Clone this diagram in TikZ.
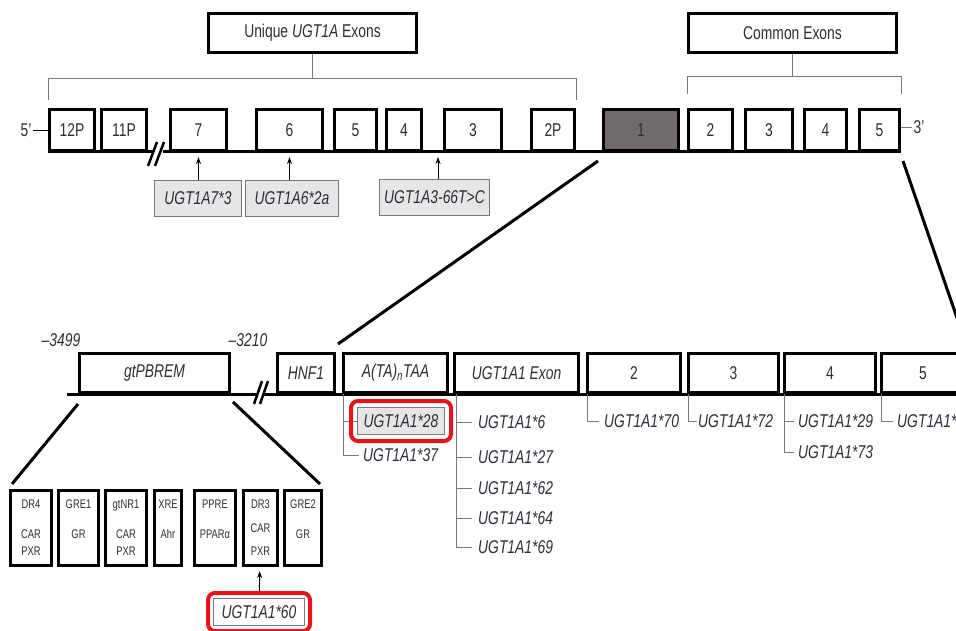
\documentclass[tikz,border=0pt]{standalone}
\usepackage{fontspec}
\setmainfont{Liberation Sans}[FakeStretch=0.75]
\usepackage{tikz}
\usetikzlibrary{arrows.meta, positioning, calc, fit}
\definecolor{inktext}{RGB}{45, 45, 58}
\definecolor{exonfill}{RGB}{112, 106, 106}
\definecolor{labelfill}{RGB}{230, 230, 230}
\definecolor{hilite}{RGB}{232, 20, 27}
\definecolor{bracketgray}{RGB}{120, 120, 120}

\begin{document}
\begin{tikzpicture}[
    x=1pt, y=-1pt,
    exonBox/.style={draw=black, fill=white, line width=3pt, inner sep=1pt, text=inktext, font=\fontsize{18.5}{21}\selectfont, minimum height=41pt},
    midBox/.style={exonBox, minimum height=39pt},
    headBox/.style={exonBox, minimum width=208pt, minimum height=39pt},
    siteBox/.style={draw=black, fill=white, line width=3pt, inner sep=1pt, text=inktext, align=center, font=\fontsize{12.5}{17}\selectfont, minimum height=75pt},
    snpBox/.style={draw=bracketgray, fill=labelfill, line width=1pt, inner sep=1pt, text=inktext, font=\fontsize{18.5}{21}\selectfont\itshape, minimum height=36pt},
    redFrame/.style={draw=hilite, line width=4pt, rounded corners=7pt, inner sep=6pt},
    varLbl/.style={anchor=west, inner sep=1pt, text=inktext, font=\fontsize{18.5}{21}\selectfont\itshape},
    posLbl/.style={inner sep=1pt, text=inktext, font=\fontsize{18.5}{21}\selectfont\itshape},
    endLbl/.style={inner sep=1pt, text=inktext, font=\fontsize{18.5}{21}\selectfont},
    dnaLine/.style={draw=black, line width=3pt},
    zoomLine/.style={draw=black, line width=3pt},
    breakMark/.style={draw=black, line width=2.5pt},
    bracketLine/.style={draw=bracketgray, line width=1pt},
    arrow/.style={draw=black, line width=1pt, -{Stealth[length=7pt, width=5pt]}}
]
\useasboundingbox (0,0) rectangle (956,630);
\clip (0,0) rectangle (956,630);
\fill[white] (0,0) rectangle (956,630);

% Headers
\node[headBox] (uniq) at (312.5,33) {Unique \textit{UGT1A} Exons};
\node[headBox] (common) at (792.5,33) {Common Exons};

% Gene locus
\draw[dnaLine] (48,151) -- (153,151);
\draw[dnaLine] (163,151) -- (901,151);
\draw[breakMark] (148,166) -- (157,142);
\draw[breakMark] (155,166) -- (164,142);

\node[exonBox, minimum width=45pt] (ex12P) at (72,130) {12P};
\node[exonBox, minimum width=45pt, right=4pt of ex12P] (ex11P) {11P};
\node[exonBox, minimum width=56pt, right=21pt of ex11P] (ex7) {7};
\node[exonBox, minimum width=66pt, right=27pt of ex7] (ex6) {6};
\node[exonBox, minimum width=42pt, right=9pt of ex6] (ex5) {5};
\node[exonBox, minimum width=35pt, right=7pt of ex5] (ex4) {4};
\node[exonBox, minimum width=57pt, right=20pt of ex4] (ex3) {3};
\node[exonBox, minimum width=43pt, right=27pt of ex3] (ex2P) {2P};
\node[exonBox, minimum width=75pt, fill=exonfill, right=26pt of ex2P] (ex1) {1};
\node[exonBox, minimum width=44pt, right=7pt of ex1] (ex2c) {2};
\node[exonBox, minimum width=47pt, right=10pt of ex2c] (ex3c) {3};
\node[exonBox, minimum width=42pt, right=9pt of ex3c] (ex4c) {4};
\node[exonBox, minimum width=40pt, right=10pt of ex4c] (ex5c) {5};

\node[endLbl] (five) at (26,130) {5'};
\node[endLbl] (three) at (919,127) {3'};
\draw[black, line width=1pt] (five) -- (ex12P);
\draw[bracketLine] (ex5c.east |- three) -- (three);

% Brackets
\draw[bracketLine] (uniq.south) -- (uniq.south |- 0,78);
\draw[bracketLine] ([yshift=8pt]ex12P.north west) |- ([yshift=30pt]ex2P.north east) -- ([yshift=8pt]ex2P.north east);
\draw[bracketLine] (common.south) -- (common.south |- 0,76);
\draw[bracketLine] ([yshift=14pt]ex2c.north west) |- ([yshift=32pt]ex5c.north east) -- ([yshift=14pt]ex5c.north east);

% Variants of the unique exons
\node[snpBox, minimum width=87pt] (lbl7) at (198,198.5) {UGT1A7*3};
\node[snpBox, minimum width=93pt, right=3pt of lbl7] (lbl6) {UGT1A6*2a};
\node[snpBox, minimum width=110pt] (lbl3) at (434.5,197) {UGT1A3-66T>C};
\coordinate (snp3) at (438,157);
\draw[arrow] (lbl7.north -| ex7.south) -- ([yshift=-5pt]ex7.south);
\draw[arrow] (lbl6.north -| ex6.south) -- ([yshift=-5pt]ex6.south);
\draw[arrow] (lbl3.north -| snp3) -- (snp3);

% UGT1A1 gene
\draw[dnaLine] (67,394) -- (258,394);
\draw[dnaLine] (264,394) -- (970,394);
\draw[breakMark] (254,404) -- (262,381);
\draw[breakMark] (260,404) -- (268,381);

\node[midBox, minimum width=150pt, font=\fontsize{18.5}{21}\selectfont\itshape] (gt) at (154.5,373) {gtPBREM};
\node[midBox, minimum width=57pt, font=\fontsize{18.5}{21}\selectfont\itshape] (hnf1) at (306,373) {HNF1};
\node[midBox, minimum width=104pt, font=\fontsize{18.5}{21}\selectfont\itshape, right=6pt of hnf1] (ata) {A(TA)\textsubscript{n}TAA};
\node[midBox, minimum width=124pt, font=\fontsize{18.5}{21}\selectfont\itshape, right=4pt of ata] (ua1) {UGT1A1 Exon};
\node[midBox, minimum width=93pt, right=6pt of ua1] (ex2m) {2};
\node[midBox, minimum width=90pt, right=5pt of ex2m] (ex3m) {3};
\node[midBox, minimum width=91pt, right=3pt of ex3m] (ex4m) {4};
\node[midBox, minimum width=83pt, right=3pt of ex4m] (ex5m) {5};

\node[posLbl] (p3499) at (61,340) {--3499};
\node[posLbl] (p3210) at (248,340) {--3210};

% Zoom lines
\draw[zoomLine] ([xshift=-4pt,yshift=-9pt]ex1.south west) -- ([xshift=2pt,yshift=8pt]hnf1.north east);
\draw[zoomLine] ([xshift=2pt,yshift=-9pt]ex5c.south east) -- ([yshift=8pt]ex5m.north east);

% Variants of UGT1A1
\node[snpBox, minimum width=87pt, minimum height=27pt] (v28) at (401,421) {UGT1A1*28};
\node[varLbl] (v37) at (362,455) {UGT1A1*37};
\coordinate (ataTap) at ([xshift=1.5pt]ata.south west);
\draw[bracketLine] (ataTap) |- ([xshift=-3pt]v37.west);
\draw[bracketLine] (ataTap |- v28) -- (v28.west);
\node[redFrame, fit=(v28)] (f28) {};

\coordinate (exTap) at ([xshift=3pt]ua1.south west);
\foreach \v/\yy in {6/422, 27/457, 62/488, 64/518, 69/547} {
    \node[varLbl] (v\v) at (477,\yy) {UGT1A1*\v};
    \draw[bracketLine] (exTap |- v\v) -- ([xshift=-5pt]v\v.west);
}
\draw[bracketLine] (exTap) -- (exTap |- v69);

\node[varLbl] (v70) at (603,421) {UGT1A1*70};
\node[varLbl] (v72) at (697,421) {UGT1A1*72};
\node[varLbl] (v29) at (797,421) {UGT1A1*29};
\node[varLbl] (v73) at (797,452) {UGT1A1*73};
\node[varLbl] (v7x) at (896,421) {UGT1A1*7};
\draw[bracketLine] ([xshift=1.5pt]ex2m.south west) |- ([xshift=-4pt]v70.west);
\draw[bracketLine] ([xshift=1.5pt]ex3m.south west) |- (v72.west);
\draw[bracketLine] ([xshift=1.5pt]ex4m.south west) |- ([xshift=-3pt]v73.west);
\draw[bracketLine] ([xshift=1.5pt]ex4m.south west |- v29) -- ([xshift=-3pt]v29.west);
\draw[bracketLine] ([xshift=1.5pt]ex5m.south west) |- ([xshift=-3pt]v7x.west);

% gtPBREM elements
\node[siteBox, minimum width=41pt] (dr4) at (31,528) {DR4\\[13pt]CAR\\PXR};
\node[siteBox, minimum width=40pt, right=4pt of dr4] (gre1) {GRE1\\[13pt]GR\\\mbox{}};
\node[siteBox, minimum width=41pt, right=4pt of gre1] (gtnr1) {gtNR1\\[13pt]CAR\\PXR};
\node[siteBox, minimum width=27pt, right=5pt of gtnr1] (xre) {XRE\\[13pt]Ahr\\\mbox{}};
\node[siteBox, minimum width=41pt, right=10pt of xre] (ppre) {PPRE\\[13pt]PPARα\\\mbox{}};
\node[siteBox, minimum width=34pt, right=5pt of ppre] (dr3) {DR3\\[6.5pt]CAR\\[6.5pt]PXR};
\node[siteBox, minimum width=37pt, right=4pt of dr3] (gre2) {GRE2\\[13pt]GR\\\mbox{}};

\draw[zoomLine] ([yshift=-10pt]gt.south west) -- ([xshift=3pt,yshift=5pt]dr4.north west);
\draw[zoomLine] ([xshift=2pt,yshift=-8pt]gt.south east) -- ([xshift=-3pt,yshift=5pt]gre2.north east);

\node[snpBox, fill=white, minimum width=91pt, minimum height=27pt] (v60) at (259,612) {UGT1A1*60};
\node[redFrame, inner sep=5pt, fit=(v60)] (f60) {};
\draw[arrow, shorten >=4pt] (f60) -- (dr3);

\end{tikzpicture}
\end{document}
